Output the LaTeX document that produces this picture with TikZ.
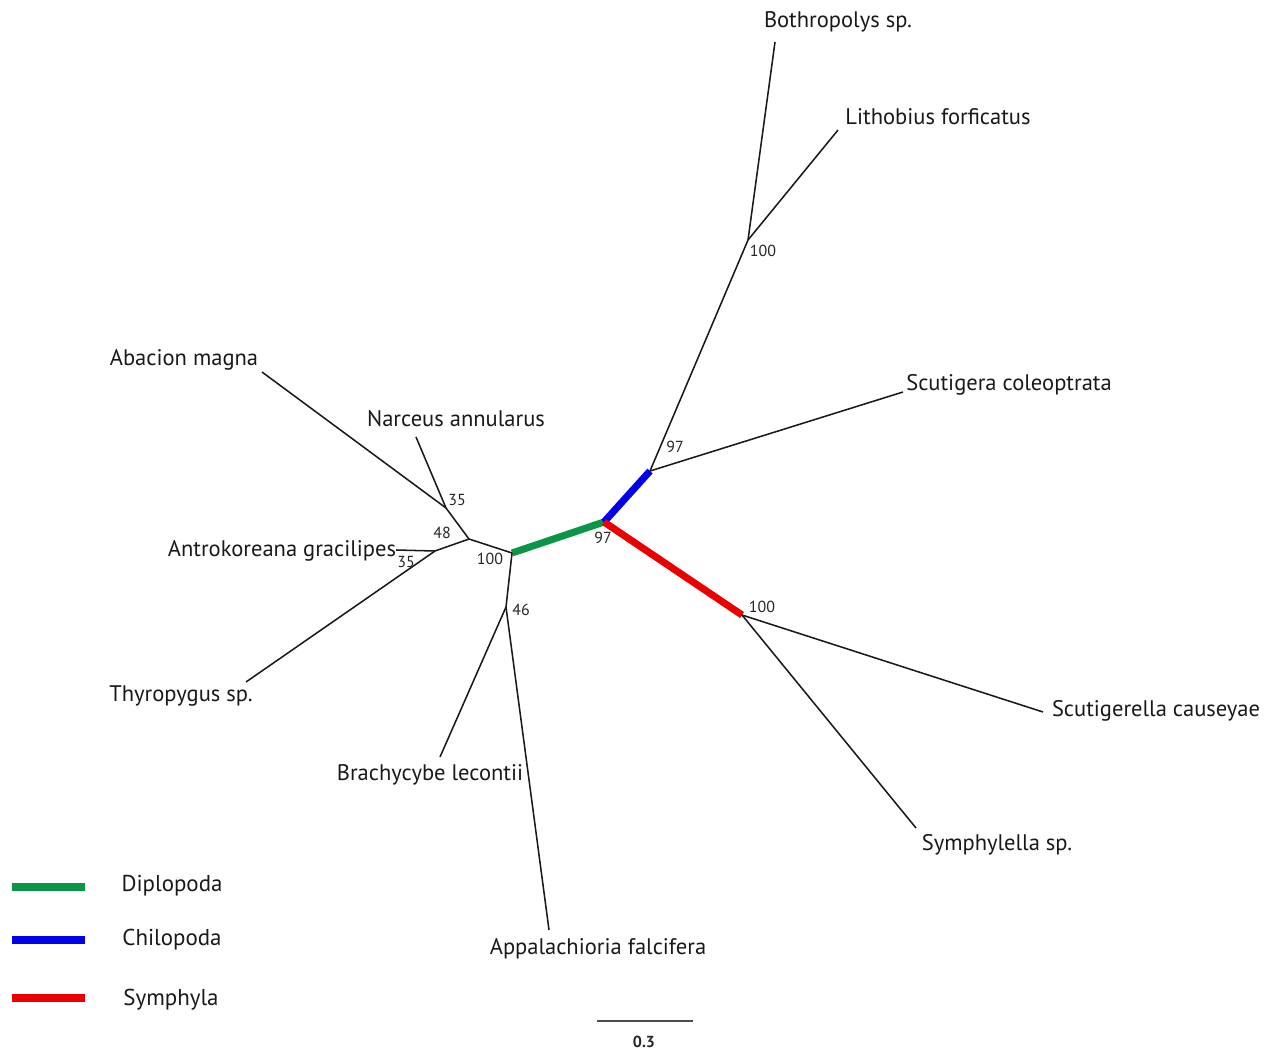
\documentclass[tikz,border=0pt]{standalone}
\usepackage{fontspec}
\setmainfont{PT Sans}
\definecolor{dgreen}{RGB}{10,150,70}
\definecolor{dblue}{RGB}{0,0,235}
\definecolor{dred}{RGB}{235,0,0}
\begin{document}
\begin{tikzpicture}[x=0.75pt,y=-0.75pt,
  br/.style={line width=1.15pt,black!90},
  clade/.style={line width=5.3pt},
  taxon/.style={font=\fontsize{16.9}{18}\selectfont,inner sep=0pt,text=black!90,yshift=-1.5pt},
  boot/.style={font=\fontsize{12}{13}\selectfont,inner sep=0pt,text=black!85,yshift=-0.75pt},
  legtxt/.style={font=\fontsize{17.2}{18}\selectfont,inner sep=0pt,text=black!90,yshift=-1.5pt}]
\useasboundingbox (0,0) rectangle (1270,1053);
% internal nodes
\coordinate (C) at (604,522);
\coordinate (K) at (650,471);
\coordinate (L) at (748,240);
\coordinate (S) at (742,615);
\coordinate (D) at (512,553);
\coordinate (N1) at (469,539);
\coordinate (N2) at (446,508);
\coordinate (N3) at (435,551);
\coordinate (N4) at (506,607);
% tips
\coordinate (tBoth) at (775,42);
\coordinate (tLith) at (838,130);
\coordinate (tScut) at (903,392);
\coordinate (tScuc) at (1043,712);
\coordinate (tSymp) at (916,828);
\coordinate (tAppa) at (549,930);
\coordinate (tBrac) at (440,757);
\coordinate (tThyr) at (246,682);
\coordinate (tAntr) at (396,550);
\coordinate (tAbac) at (262,372);
\coordinate (tNarc) at (416,437);
% coloured clades
\draw[clade,dgreen] (D) -- (C);
\draw[clade,dblue] (C) -- (K);
\draw[clade,dred] (C) -- (S);
% branches
\draw[br] (K) -- (L);
\draw[br] (L) -- (tBoth);
\draw[br] (L) -- (tLith);
\draw[br] (K) -- (tScut);
\draw[br] (S) -- (tScuc);
\draw[br] (S) -- (tSymp);
\draw[br] (D) -- (N4);
\draw[br] (N4) -- (tAppa);
\draw[br] (N4) -- (tBrac);
\draw[br] (D) -- (N1);
\draw[br] (N1) -- (N2);
\draw[br] (N2) -- (tAbac);
\draw[br] (N2) -- (tNarc);
\draw[br] (N1) -- (N3);
\draw[br] (N3) -- (tAntr);
\draw[br] (N3) -- (tThyr);
% taxon labels
\node[taxon] (lBoth) at (838,20) {Bothropolys sp.};
\node[taxon] (lLith) at (938,115) {Lithobius forficatus};
\node[taxon] (lScut) at (1009,383) {Scutigera coleoptrata};
\node[taxon] (lScuc) at (1156,709) {Scutigerella causeyae};
\node[taxon] (lSymp) at (997,843) {Symphylella sp.};
\node[taxon] (lAppa) at (598,947) {Appalachioria falcifera};
\node[taxon] (lBrac) at (430,773) {Brachycybe lecontii};
\node[taxon] (lThyr) at (181,694) {Thyropygus sp.};
\node[taxon] (lAntr) at (282,549) {Antrokoreana gracilipes};
\node[taxon] (lAbac) at (184,358) {Abacion magna};
\node[taxon] (lNarc) at (456,417) {Narceus annularus};
% bootstrap values
\node[boot] (bL) at (763,250) {100};
\node[boot] (bK) at (675,446) {97};
\node[boot] (bC) at (603,537) {97};
\node[boot] (bS) at (762,606) {100};
\node[boot] (bD) at (490,558) {100};
\node[boot] (bN4) at (521,609) {46};
\node[boot] (bN1) at (442,532) {48};
\node[boot] (bN2) at (457,499) {35};
\node[boot] (bN3) at (406,561) {35};
% legend
\coordinate (g1) at (12,887); \coordinate (g2) at (85,887);
\coordinate (b1) at (12,940); \coordinate (b2) at (85,940);
\coordinate (r1) at (12,998); \coordinate (r2) at (85,998);
\draw[clade,dgreen] (g1) -- (g2);
\draw[clade,dblue] (b1) -- (b2);
\draw[clade,dred] (r1) -- (r2);
\node[legtxt] (lgD) at (172,884) {Diplopoda};
\node[legtxt] (lgC) at (172,938) {Chilopoda};
\node[legtxt] (lgS) at (171,998) {Symphyla};
% scale bar
\coordinate (s1) at (597,1021); \coordinate (s2) at (693,1021);
\draw[line width=1.2pt,black!70] (s1) -- (s2);
\node[boot,font=\fontsize{12}{13}\selectfont\bfseries] (sc) at (644,1041) {0.3};
\end{tikzpicture}
\end{document}
